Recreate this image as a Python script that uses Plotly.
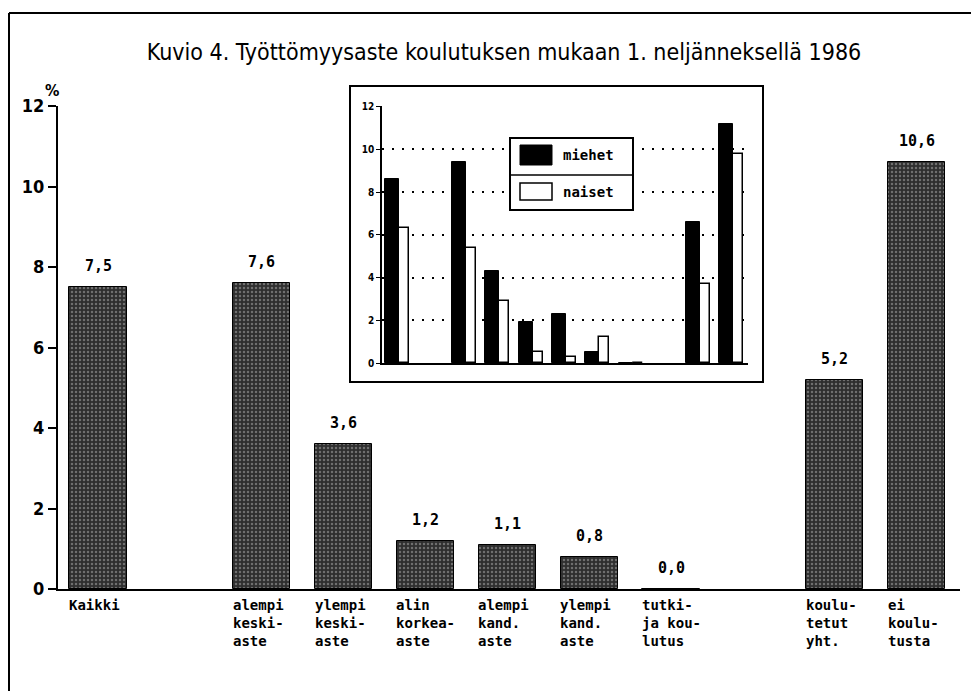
import plotly.graph_objects as go

# ---- data ----
main_labels = ["Kaikki", "alempi<br>keski-<br>aste", "ylempi<br>keski-<br>aste", "alin<br>korkea-<br>aste",
               "alempi<br>kand.<br>aste", "ylempi<br>kand.<br>aste", "tutki-<br>ja kou-<br>lutus",
               "koulu-<br>tetut<br>yht.", "ei<br>koulu-<br>tusta"]
main_pos = [0, 2, 3, 4, 5, 6, 7, 9, 10]
main_values = [7.5, 7.6, 3.6, 1.2, 1.1, 0.8, 0.0, 5.2, 10.6]
main_text = ["7,5", "7,6", "3,6", "1,2", "1,1", "0,8", "0,0", "5,2", "10,6"]

inset_pos = [0, 2, 3, 4, 5, 6, 7, 9, 10]
miehet = [8.6, 9.4, 4.3, 1.9, 2.3, 0.5, 0.0, 6.6, 11.2]
naiset = [6.3, 5.4, 2.9, 0.5, 0.3, 1.2, 0.0, 3.7, 9.8]
y_ticks = [0, 2, 4, 6, 8, 10, 12]

title = "Kuvio 4. Työttömyysaste koulutuksen mukaan 1. neljänneksellä 1986"

OFF = 8  # page body margin
W, H = 979 - OFF, 691 - OFF
# plot area in reference-page pixels
PL, PR, PT, PB = 58, 960, 106, 589
L, T = PL - OFF, PT - OFF
R, B = W - (PR - OFF), H - (PB - OFF)
pw, ph = PR - PL, PB - PT


def px(x):
    return (x - PL) / pw


def py(y):
    return (PB - y) / ph


MONO = "DejaVu Sans Mono"
COND = "DejaVu Sans Condensed"

fig = go.Figure()

fig.add_trace(go.Bar(
    x=main_pos, y=main_values, width=0.7,
    marker=dict(color="#333333", line=dict(color="black", width=1),
                pattern=dict(shape=".", fgcolor="#b0b0b0", bgcolor="#2e2e2e", size=4, solidity=0.3)),
    showlegend=False, xaxis="x", yaxis="y",
))

fig.add_trace(go.Bar(
    x=inset_pos, y=miehet, width=0.42, offset=-0.42, name="miehet",
    marker=dict(color="black", line=dict(color="black", width=1)),
    showlegend=False, xaxis="x2", yaxis="y2",
))
fig.add_trace(go.Bar(
    x=inset_pos, y=naiset, width=0.3, offset=0.0, name="naiset",
    marker=dict(color="white", line=dict(color="black", width=1.5)),
    showlegend=False, xaxis="x2", yaxis="y2",
))

annotations = []
for xp, v, t in zip(main_pos, main_values, main_text):
    annotations.append(dict(x=xp, y=v, xref="x", yref="y", text=t, showarrow=False,
                            xanchor="center", yanchor="bottom", yshift=10,
                            font=dict(family=MONO, size=15, color="black", weight="bold")))
for xp, lab in zip(main_pos, main_labels):
    annotations.append(dict(x=xp - 0.38, y=0, xref="x", yref="paper", text=lab, showarrow=False,
                            xanchor="left", yanchor="top", yshift=-6, align="left",
                            font=dict(family=MONO, size=14, color="black", weight="bold")))
annotations.append(dict(x=px(52), y=py(90), xref="paper", yref="paper", text="%", showarrow=False,
                        xanchor="center", yanchor="middle",
                        font=dict(family=COND, size=16, color="black", weight="bold")))
annotations.append(dict(x=px(561), y=py(155), xref="paper", yref="paper", text="miehet", showarrow=False,
                        xanchor="left", yanchor="middle",
                        font=dict(family=MONO, size=14, color="black", weight="bold")))
annotations.append(dict(x=px(561), y=py(192), xref="paper", yref="paper", text="naiset", showarrow=False,
                        xanchor="left", yanchor="middle",
                        font=dict(family=MONO, size=14, color="black", weight="bold")))

shapes = [
    dict(type="line", xref="paper", yref="paper", x0=px(9), x1=px(990), y0=py(13), y1=py(13),
         line=dict(color="black", width=2)),
    dict(type="line", xref="paper", yref="paper", x0=px(9), x1=px(9), y0=py(13), y1=py(700),
         line=dict(color="black", width=2)),
    dict(type="rect", xref="paper", yref="paper", x0=px(350), x1=px(763), y0=py(382), y1=py(86),
         line=dict(color="black", width=2), layer="below"),
    dict(type="rect", xref="paper", yref="paper", x0=px(510), x1=px(633), y0=py(210), y1=py(138),
         line=dict(color="black", width=2), fillcolor="white", layer="above"),
    dict(type="line", xref="paper", yref="paper", x0=px(510), x1=px(633), y0=py(175), y1=py(175),
         line=dict(color="black", width=1.5), layer="above"),
    dict(type="rect", xref="paper", yref="paper", x0=px(520), x1=px(552), y0=py(165), y1=py(145),
         line=dict(color="black", width=1), fillcolor="black", layer="above"),
    dict(type="rect", xref="paper", yref="paper", x0=px(520), x1=px(552), y0=py(200), y1=py(183),
         line=dict(color="black", width=1.5), fillcolor="white", layer="above"),
]

fig.update_layout(
    width=W, height=H, autosize=False,
    margin=dict(l=L, r=R, t=T, b=B),
    paper_bgcolor="white", plot_bgcolor="rgba(0,0,0,0)",
    barmode="overlay", bargap=0,
    title=dict(text=title, x=(504 - OFF) / W, xanchor="center", xref="container",
               y=1 - (52 - OFF) / H, yanchor="middle", yref="container",
               font=dict(family=COND, size=23, color="black")),
    xaxis=dict(range=[-0.49, 10.53], showline=True, linecolor="black", linewidth=2,
               showticklabels=False, ticks="", showgrid=False, zeroline=False, fixedrange=True),
    yaxis=dict(range=[0, 12], tickvals=y_ticks, showline=True, linecolor="black", linewidth=2,
               ticks="outside", ticklen=8, tickwidth=2, tickcolor="black", showgrid=False,
               zeroline=False, tickfont=dict(family=COND, size=18, color="black", weight="bold")),
    xaxis2=dict(domain=[px(382), px(748)], anchor="y2", range=[-0.51, 10.45], showline=True,
                linecolor="black", linewidth=2, showticklabels=False, ticks="", showgrid=False,
                zeroline=False),
    yaxis2=dict(domain=[py(363), 1.0], anchor="x2", range=[0, 12.03],
                tickvals=y_ticks, showline=True, linecolor="black", linewidth=1.5,
                ticks="outside", ticklen=4, tickcolor="black", showgrid=True, gridcolor="black",
                griddash="2px,8px", gridwidth=1.5, zeroline=False,
                tickfont=dict(family=COND, size=10, color="black", weight="bold")),
    annotations=annotations,
    shapes=shapes,
)

fig.write_html("out.html")
